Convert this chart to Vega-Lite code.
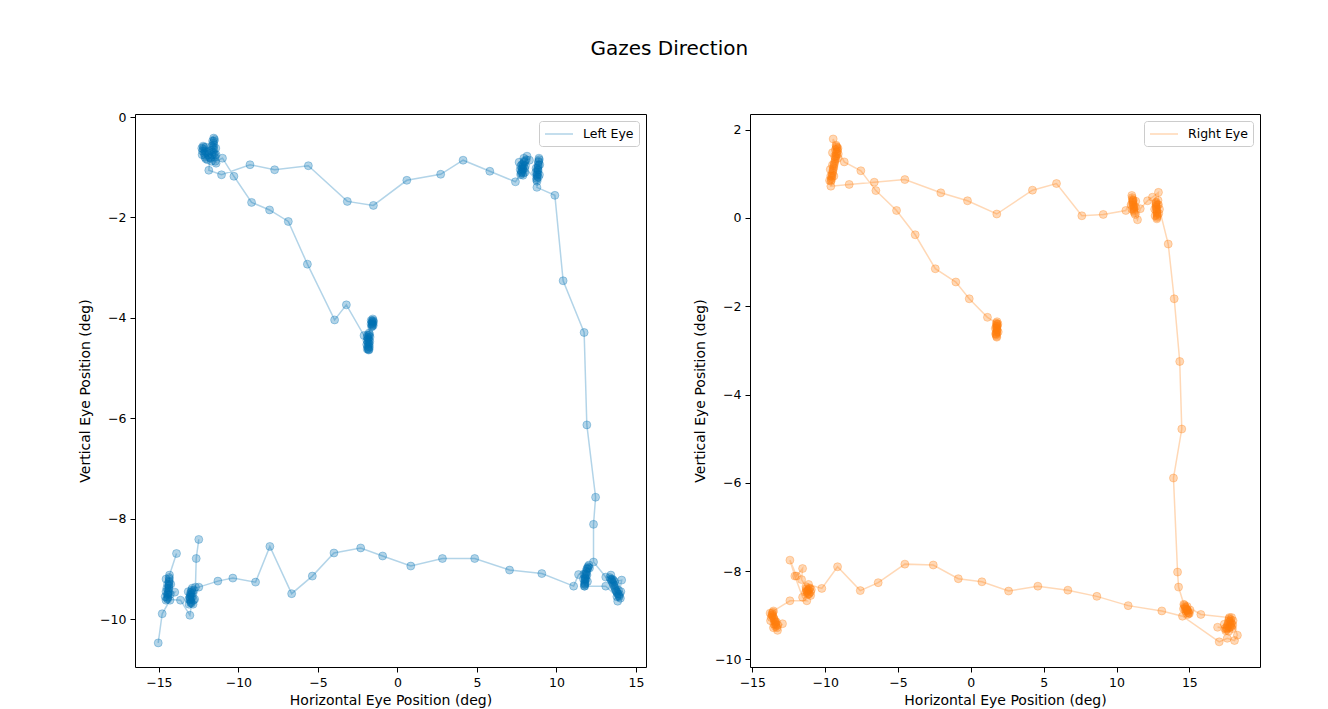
{
  "$schema": "https://vega.github.io/schema/vega-lite/v6.json",
  "background": "white",
  "padding": {"left": 78, "top": 38, "right": 5, "bottom": 5},
  "title": {"text": "Gazes Direction", "anchor": "middle", "fontSize": 20, "font": "DejaVu Sans", "fontWeight": "normal", "color": "black", "offset": 52},
  "datasets": {
    "left": [
      {"eye":"Left Eye","seg":1,"i":1,"x":-1.55,"y":-4.02},
      {"eye":"Left Eye","seg":1,"i":1.5,"x":-1.52,"y":-4.05},
      {"eye":"Left Eye","seg":1,"i":2,"x":-1.58,"y":-4.06},
      {"eye":"Left Eye","seg":1,"i":2.5,"x":-1.60,"y":-4.08},
      {"eye":"Left Eye","seg":1,"i":3,"x":-1.57,"y":-4.10},
      {"eye":"Left Eye","seg":1,"i":3.5,"x":-1.55,"y":-4.12},
      {"eye":"Left Eye","seg":1,"i":4,"x":-1.60,"y":-4.14},
      {"eye":"Left Eye","seg":1,"i":4.5,"x":-1.58,"y":-4.16},
      {"eye":"Left Eye","seg":1,"i":5,"x":-1.62,"y":-4.18},
      {"eye":"Left Eye","seg":1,"i":5.1,"x":-1.50,"y":-4.08},
      {"eye":"Left Eye","seg":1,"i":5.2,"x":-1.65,"y":-4.05},
      {"eye":"Left Eye","seg":1,"i":5.3,"x":-1.52,"y":-4.15},
      {"eye":"Left Eye","seg":1,"i":5.4,"x":-1.66,"y":-4.12},
      {"eye":"Left Eye","seg":1,"i":6,"x":-1.78,"y":-4.30},
      {"eye":"Left Eye","seg":1,"i":6.5,"x":-1.75,"y":-4.33},
      {"eye":"Left Eye","seg":1,"i":7,"x":-1.80,"y":-4.35},
      {"eye":"Left Eye","seg":1,"i":8,"x":-1.82,"y":-4.40},
      {"eye":"Left Eye","seg":1,"i":8.5,"x":-1.85,"y":-4.42},
      {"eye":"Left Eye","seg":1,"i":9,"x":-1.79,"y":-4.45},
      {"eye":"Left Eye","seg":1,"i":10,"x":-1.83,"y":-4.50},
      {"eye":"Left Eye","seg":1,"i":10.5,"x":-1.77,"y":-4.52},
      {"eye":"Left Eye","seg":1,"i":11,"x":-1.80,"y":-4.55},
      {"eye":"Left Eye","seg":1,"i":11.5,"x":-1.87,"y":-4.57},
      {"eye":"Left Eye","seg":1,"i":12,"x":-1.84,"y":-4.60},
      {"eye":"Left Eye","seg":1,"i":12.5,"x":-1.83,"y":-4.62},
      {"eye":"Left Eye","seg":1,"i":13,"x":-1.81,"y":-4.64},
      {"eye":"Left Eye","seg":1,"i":13.1,"x":-1.72,"y":-4.38},
      {"eye":"Left Eye","seg":1,"i":13.2,"x":-1.92,"y":-4.45},
      {"eye":"Left Eye","seg":1,"i":13.3,"x":-1.74,"y":-4.47},
      {"eye":"Left Eye","seg":1,"i":13.4,"x":-1.93,"y":-4.53},
      {"eye":"Left Eye","seg":1,"i":13.5,"x":-1.76,"y":-4.58},
      {"eye":"Left Eye","seg":1,"i":13.6,"x":-1.90,"y":-4.62},
      {"eye":"Left Eye","seg":1,"i":13.7,"x":-1.78,"y":-4.63},
      {"eye":"Left Eye","seg":1,"i":13.8,"x":-1.88,"y":-4.34},
      {"eye":"Left Eye","seg":1,"i":14,"x":-1.86,"y":-4.48},
      {"eye":"Left Eye","seg":1,"i":15,"x":-1.90,"y":-4.38},
      {"eye":"Left Eye","seg":1,"i":16,"x":-2.10,"y":-4.35},
      {"eye":"Left Eye","seg":1,"i":17,"x":-3.21,"y":-3.74},
      {"eye":"Left Eye","seg":1,"i":18,"x":-3.95,"y":-4.04},
      {"eye":"Left Eye","seg":1,"i":19,"x":-5.66,"y":-2.93},
      {"eye":"Left Eye","seg":1,"i":20,"x":-6.86,"y":-2.08},
      {"eye":"Left Eye","seg":1,"i":21,"x":-8.04,"y":-1.85},
      {"eye":"Left Eye","seg":1,"i":22,"x":-9.17,"y":-1.70},
      {"eye":"Left Eye","seg":1,"i":23,"x":-10.28,"y":-1.18},
      {"eye":"Left Eye","seg":1,"i":24,"x":-11.00,"y":-0.82},
      {"eye":"Left Eye","seg":1,"i":25,"x":-11.45,"y":-0.88},
      {"eye":"Left Eye","seg":1,"i":26,"x":-11.50,"y":-0.80},
      {"eye":"Left Eye","seg":1,"i":26.5,"x":-11.48,"y":-0.76},
      {"eye":"Left Eye","seg":1,"i":27,"x":-11.52,"y":-0.72},
      {"eye":"Left Eye","seg":1,"i":28,"x":-11.55,"y":-0.64},
      {"eye":"Left Eye","seg":1,"i":28.5,"x":-11.57,"y":-0.60},
      {"eye":"Left Eye","seg":1,"i":29,"x":-11.55,"y":-0.56},
      {"eye":"Left Eye","seg":1,"i":30,"x":-11.53,"y":-0.48},
      {"eye":"Left Eye","seg":1,"i":30.5,"x":-11.50,"y":-0.45},
      {"eye":"Left Eye","seg":1,"i":31,"x":-11.55,"y":-0.42},
      {"eye":"Left Eye","seg":1,"i":31.5,"x":-11.58,"y":-0.52},
      {"eye":"Left Eye","seg":1,"i":32,"x":-11.62,"y":-0.70},
      {"eye":"Left Eye","seg":1,"i":33,"x":-11.75,"y":-0.82},
      {"eye":"Left Eye","seg":1,"i":34,"x":-11.95,"y":-0.85},
      {"eye":"Left Eye","seg":1,"i":35,"x":-12.10,"y":-0.80},
      {"eye":"Left Eye","seg":1,"i":35.5,"x":-12.12,"y":-0.76},
      {"eye":"Left Eye","seg":1,"i":36,"x":-12.15,"y":-0.72},
      {"eye":"Left Eye","seg":1,"i":37,"x":-12.20,"y":-0.64},
      {"eye":"Left Eye","seg":1,"i":37.5,"x":-12.18,"y":-0.60},
      {"eye":"Left Eye","seg":1,"i":38,"x":-12.22,"y":-0.58},
      {"eye":"Left Eye","seg":1,"i":38.5,"x":-12.25,"y":-0.68},
      {"eye":"Left Eye","seg":1,"i":39,"x":-12.10,"y":-0.68},
      {"eye":"Left Eye","seg":1,"i":39.5,"x":-12.05,"y":-0.83},
      {"eye":"Left Eye","seg":1,"i":40,"x":-11.90,"y":-0.75},
      {"eye":"Left Eye","seg":1,"i":40.5,"x":-11.80,"y":-0.80},
      {"eye":"Left Eye","seg":1,"i":41,"x":-11.70,"y":-0.88},
      {"eye":"Left Eye","seg":1,"i":41.5,"x":-11.65,"y":-0.76},
      {"eye":"Left Eye","seg":1,"i":42,"x":-11.40,"y":-0.92},
      {"eye":"Left Eye","seg":1,"i":42.01,"x":-11.42,"y":-0.62},
      {"eye":"Left Eye","seg":1,"i":42.02,"x":-11.62,"y":-0.48},
      {"eye":"Left Eye","seg":1,"i":42.03,"x":-11.68,"y":-0.58},
      {"eye":"Left Eye","seg":1,"i":42.04,"x":-11.40,"y":-0.75},
      {"eye":"Left Eye","seg":1,"i":42.05,"x":-12.30,"y":-0.62},
      {"eye":"Left Eye","seg":1,"i":42.06,"x":-12.28,"y":-0.75},
      {"eye":"Left Eye","seg":1,"i":42.07,"x":-12.05,"y":-0.60},
      {"eye":"Left Eye","seg":1,"i":42.08,"x":-12.00,"y":-0.70},
      {"eye":"Left Eye","seg":1,"i":42.09,"x":-11.85,"y":-0.68},
      {"eye":"Left Eye","seg":1,"i":42.10,"x":-11.72,"y":-0.66},
      {"eye":"Left Eye","seg":1,"i":43,"x":-11.86,"y":-1.06},
      {"eye":"Left Eye","seg":1,"i":44,"x":-11.06,"y":-1.15},
      {"eye":"Left Eye","seg":1,"i":45,"x":-9.27,"y":-0.95},
      {"eye":"Left Eye","seg":1,"i":46,"x":-7.72,"y":-1.05},
      {"eye":"Left Eye","seg":1,"i":47,"x":-5.60,"y":-0.97},
      {"eye":"Left Eye","seg":1,"i":48,"x":-3.15,"y":-1.68},
      {"eye":"Left Eye","seg":1,"i":49,"x":-1.51,"y":-1.76},
      {"eye":"Left Eye","seg":1,"i":50,"x":0.59,"y":-1.26},
      {"eye":"Left Eye","seg":1,"i":51,"x":2.72,"y":-1.14},
      {"eye":"Left Eye","seg":1,"i":52,"x":4.13,"y":-0.86},
      {"eye":"Left Eye","seg":1,"i":53,"x":5.81,"y":-1.08},
      {"eye":"Left Eye","seg":1,"i":54,"x":7.42,"y":-1.29},
      {"eye":"Left Eye","seg":1,"i":55,"x":7.75,"y":-1.15},
      {"eye":"Left Eye","seg":1,"i":56,"x":7.80,"y":-1.08},
      {"eye":"Left Eye","seg":1,"i":57,"x":7.85,"y":-1.00},
      {"eye":"Left Eye","seg":1,"i":58,"x":7.90,"y":-0.94},
      {"eye":"Left Eye","seg":1,"i":59,"x":7.65,"y":-0.90},
      {"eye":"Left Eye","seg":1,"i":60,"x":7.95,"y":-0.82},
      {"eye":"Left Eye","seg":1,"i":61,"x":8.15,"y":-0.78},
      {"eye":"Left Eye","seg":1,"i":62,"x":8.30,"y":-0.86},
      {"eye":"Left Eye","seg":1,"i":63,"x":8.05,"y":-0.97},
      {"eye":"Left Eye","seg":1,"i":64,"x":7.88,"y":-1.05},
      {"eye":"Left Eye","seg":1,"i":64.1,"x":7.83,"y":-1.10},
      {"eye":"Left Eye","seg":1,"i":64.2,"x":7.87,"y":-1.03},
      {"eye":"Left Eye","seg":1,"i":64.3,"x":7.93,"y":-0.97},
      {"eye":"Left Eye","seg":1,"i":64.4,"x":7.78,"y":-1.12},
      {"eye":"Left Eye","seg":1,"i":64.5,"x":7.90,"y":-1.16},
      {"eye":"Left Eye","seg":1,"i":64.6,"x":8.00,"y":-0.90},
      {"eye":"Left Eye","seg":1,"i":64.7,"x":8.10,"y":-0.85},
      {"eye":"Left Eye","seg":1,"i":65,"x":7.92,"y":-1.12},
      {"eye":"Left Eye","seg":1,"i":66,"x":8.00,"y":-1.02},
      {"eye":"Left Eye","seg":1,"i":66.1,"x":7.72,"y":-1.05},
      {"eye":"Left Eye","seg":1,"i":66.2,"x":7.75,"y":-0.98},
      {"eye":"Left Eye","seg":1,"i":66.3,"x":8.02,"y":-1.10},
      {"eye":"Left Eye","seg":1,"i":66.4,"x":7.97,"y":-0.88},
      {"eye":"Left Eye","seg":1,"i":66.5,"x":7.82,"y":-0.95},
      {"eye":"Left Eye","seg":1,"i":67,"x":8.75,"y":-1.25},
      {"eye":"Left Eye","seg":1,"i":68,"x":8.78,"y":-1.18},
      {"eye":"Left Eye","seg":1,"i":69,"x":8.80,"y":-1.10},
      {"eye":"Left Eye","seg":1,"i":70,"x":8.82,"y":-1.02},
      {"eye":"Left Eye","seg":1,"i":71,"x":8.85,"y":-0.95},
      {"eye":"Left Eye","seg":1,"i":72,"x":8.87,"y":-0.88},
      {"eye":"Left Eye","seg":1,"i":73,"x":8.90,"y":-0.82},
      {"eye":"Left Eye","seg":1,"i":74,"x":8.84,"y":-1.06},
      {"eye":"Left Eye","seg":1,"i":74.1,"x":8.76,"y":-1.22},
      {"eye":"Left Eye","seg":1,"i":74.2,"x":8.81,"y":-1.13},
      {"eye":"Left Eye","seg":1,"i":74.3,"x":8.83,"y":-1.05},
      {"eye":"Left Eye","seg":1,"i":74.4,"x":8.86,"y":-0.98},
      {"eye":"Left Eye","seg":1,"i":74.5,"x":8.88,"y":-0.90},
      {"eye":"Left Eye","seg":1,"i":74.6,"x":8.92,"y":-0.85},
      {"eye":"Left Eye","seg":1,"i":74.7,"x":8.78,"y":-1.28},
      {"eye":"Left Eye","seg":1,"i":75,"x":8.79,"y":-1.15},
      {"eye":"Left Eye","seg":1,"i":75.1,"x":8.70,"y":-1.10},
      {"eye":"Left Eye","seg":1,"i":75.2,"x":8.95,"y":-0.95},
      {"eye":"Left Eye","seg":1,"i":75.3,"x":8.72,"y":-1.02},
      {"eye":"Left Eye","seg":1,"i":75.4,"x":8.93,"y":-1.15},
      {"eye":"Left Eye","seg":1,"i":75.5,"x":8.86,"y":-1.20},
      {"eye":"Left Eye","seg":1,"i":76,"x":8.77,"y":-1.40},
      {"eye":"Left Eye","seg":1,"i":77,"x":9.90,"y":-1.56},
      {"eye":"Left Eye","seg":1,"i":78,"x":10.42,"y":-3.26},
      {"eye":"Left Eye","seg":1,"i":79,"x":11.74,"y":-4.29},
      {"eye":"Left Eye","seg":1,"i":80,"x":11.91,"y":-6.13},
      {"eye":"Left Eye","seg":1,"i":81,"x":12.46,"y":-7.57},
      {"eye":"Left Eye","seg":1,"i":82,"x":12.33,"y":-8.11},
      {"eye":"Left Eye","seg":1,"i":83,"x":12.33,"y":-8.86},
      {"eye":"Left Eye","seg":1,"i":84,"x":13.10,"y":-9.16},
      {"eye":"Left Eye","seg":1,"i":85,"x":13.35,"y":-9.17},
      {"eye":"Left Eye","seg":1,"i":86,"x":13.45,"y":-9.22},
      {"eye":"Left Eye","seg":1,"i":87,"x":13.55,"y":-9.28},
      {"eye":"Left Eye","seg":1,"i":88,"x":13.62,"y":-9.34},
      {"eye":"Left Eye","seg":1,"i":89,"x":13.70,"y":-9.40},
      {"eye":"Left Eye","seg":1,"i":90,"x":13.78,"y":-9.45},
      {"eye":"Left Eye","seg":1,"i":91,"x":13.88,"y":-9.50},
      {"eye":"Left Eye","seg":1,"i":92,"x":13.95,"y":-9.55},
      {"eye":"Left Eye","seg":1,"i":92.1,"x":13.40,"y":-9.20},
      {"eye":"Left Eye","seg":1,"i":92.2,"x":13.50,"y":-9.25},
      {"eye":"Left Eye","seg":1,"i":92.3,"x":13.60,"y":-9.31},
      {"eye":"Left Eye","seg":1,"i":92.4,"x":13.67,"y":-9.37},
      {"eye":"Left Eye","seg":1,"i":92.5,"x":13.75,"y":-9.43},
      {"eye":"Left Eye","seg":1,"i":92.6,"x":13.83,"y":-9.48},
      {"eye":"Left Eye","seg":1,"i":92.7,"x":13.92,"y":-9.53},
      {"eye":"Left Eye","seg":1,"i":92.8,"x":13.97,"y":-9.50},
      {"eye":"Left Eye","seg":1,"i":93,"x":14.05,"y":-9.45},
      {"eye":"Left Eye","seg":1,"i":94,"x":13.85,"y":-9.64},
      {"eye":"Left Eye","seg":1,"i":95,"x":14.10,"y":-9.22},
      {"eye":"Left Eye","seg":1,"i":96,"x":13.65,"y":-9.25},
      {"eye":"Left Eye","seg":1,"i":97,"x":13.50,"y":-9.20},
      {"eye":"Left Eye","seg":1,"i":97.1,"x":13.42,"y":-9.12},
      {"eye":"Left Eye","seg":1,"i":97.2,"x":13.58,"y":-9.22},
      {"eye":"Left Eye","seg":1,"i":97.3,"x":13.72,"y":-9.33},
      {"eye":"Left Eye","seg":1,"i":97.4,"x":13.90,"y":-9.42},
      {"eye":"Left Eye","seg":1,"i":97.5,"x":14.02,"y":-9.58},
      {"eye":"Left Eye","seg":1,"i":97.6,"x":13.80,"y":-9.55},
      {"eye":"Left Eye","seg":1,"i":98,"x":13.10,"y":-9.34},
      {"eye":"Left Eye","seg":1,"i":99,"x":11.75,"y":-9.34},
      {"eye":"Left Eye","seg":1,"i":100,"x":11.77,"y":-9.28},
      {"eye":"Left Eye","seg":1,"i":101,"x":11.78,"y":-9.22},
      {"eye":"Left Eye","seg":1,"i":102,"x":11.80,"y":-9.16},
      {"eye":"Left Eye","seg":1,"i":103,"x":11.83,"y":-9.10},
      {"eye":"Left Eye","seg":1,"i":104,"x":11.87,"y":-9.04},
      {"eye":"Left Eye","seg":1,"i":105,"x":11.92,"y":-8.99},
      {"eye":"Left Eye","seg":1,"i":106,"x":11.98,"y":-8.95},
      {"eye":"Left Eye","seg":1,"i":107,"x":12.05,"y":-8.92},
      {"eye":"Left Eye","seg":1,"i":107.1,"x":12.00,"y":-8.97},
      {"eye":"Left Eye","seg":1,"i":107.2,"x":11.95,"y":-9.00},
      {"eye":"Left Eye","seg":1,"i":107.3,"x":11.90,"y":-9.07},
      {"eye":"Left Eye","seg":1,"i":107.4,"x":11.85,"y":-9.13},
      {"eye":"Left Eye","seg":1,"i":107.5,"x":11.81,"y":-9.19},
      {"eye":"Left Eye","seg":1,"i":107.6,"x":11.79,"y":-9.25},
      {"eye":"Left Eye","seg":1,"i":107.7,"x":11.76,"y":-9.31},
      {"eye":"Left Eye","seg":1,"i":107.8,"x":11.78,"y":-9.34},
      {"eye":"Left Eye","seg":1,"i":108,"x":11.85,"y":-9.20},
      {"eye":"Left Eye","seg":1,"i":109,"x":11.80,"y":-9.30},
      {"eye":"Left Eye","seg":1,"i":109.1,"x":11.70,"y":-9.20},
      {"eye":"Left Eye","seg":1,"i":109.2,"x":11.92,"y":-9.12},
      {"eye":"Left Eye","seg":1,"i":109.3,"x":11.72,"y":-9.10},
      {"eye":"Left Eye","seg":1,"i":109.4,"x":11.95,"y":-9.25},
      {"eye":"Left Eye","seg":1,"i":109.5,"x":12.08,"y":-8.98},
      {"eye":"Left Eye","seg":1,"i":110,"x":11.39,"y":-9.11},
      {"eye":"Left Eye","seg":1,"i":111,"x":11.08,"y":-9.34},
      {"eye":"Left Eye","seg":1,"i":112,"x":9.08,"y":-9.09},
      {"eye":"Left Eye","seg":1,"i":113,"x":7.05,"y":-9.02},
      {"eye":"Left Eye","seg":1,"i":114,"x":4.86,"y":-8.79},
      {"eye":"Left Eye","seg":1,"i":115,"x":2.83,"y":-8.79},
      {"eye":"Left Eye","seg":1,"i":116,"x":0.84,"y":-8.94},
      {"eye":"Left Eye","seg":1,"i":117,"x":-0.93,"y":-8.74},
      {"eye":"Left Eye","seg":1,"i":118,"x":-2.31,"y":-8.58},
      {"eye":"Left Eye","seg":1,"i":119,"x":-3.99,"y":-8.68},
      {"eye":"Left Eye","seg":1,"i":120,"x":-5.35,"y":-9.14},
      {"eye":"Left Eye","seg":1,"i":121,"x":-6.65,"y":-9.49},
      {"eye":"Left Eye","seg":1,"i":122,"x":-8.02,"y":-8.55},
      {"eye":"Left Eye","seg":1,"i":123,"x":-8.92,"y":-9.26},
      {"eye":"Left Eye","seg":1,"i":124,"x":-10.35,"y":-9.18},
      {"eye":"Left Eye","seg":1,"i":125,"x":-11.29,"y":-9.24},
      {"eye":"Left Eye","seg":1,"i":126,"x":-12.49,"y":-9.36},
      {"eye":"Left Eye","seg":1,"i":127,"x":-12.90,"y":-9.38},
      {"eye":"Left Eye","seg":1,"i":128,"x":-12.95,"y":-9.42},
      {"eye":"Left Eye","seg":1,"i":129,"x":-13.00,"y":-9.47},
      {"eye":"Left Eye","seg":1,"i":130,"x":-13.02,"y":-9.52},
      {"eye":"Left Eye","seg":1,"i":131,"x":-13.05,"y":-9.57},
      {"eye":"Left Eye","seg":1,"i":132,"x":-13.03,"y":-9.62},
      {"eye":"Left Eye","seg":1,"i":133,"x":-13.00,"y":-9.67},
      {"eye":"Left Eye","seg":1,"i":133.1,"x":-12.92,"y":-9.45},
      {"eye":"Left Eye","seg":1,"i":133.2,"x":-12.98,"y":-9.50},
      {"eye":"Left Eye","seg":1,"i":133.3,"x":-13.03,"y":-9.55},
      {"eye":"Left Eye","seg":1,"i":133.4,"x":-13.01,"y":-9.60},
      {"eye":"Left Eye","seg":1,"i":133.5,"x":-12.97,"y":-9.65},
      {"eye":"Left Eye","seg":1,"i":133.6,"x":-12.90,"y":-9.55},
      {"eye":"Left Eye","seg":1,"i":133.7,"x":-12.95,"y":-9.68},
      {"eye":"Left Eye","seg":1,"i":134,"x":-12.85,"y":-9.70},
      {"eye":"Left Eye","seg":1,"i":135,"x":-12.75,"y":-9.60},
      {"eye":"Left Eye","seg":1,"i":135.1,"x":-13.15,"y":-9.45},
      {"eye":"Left Eye","seg":1,"i":135.2,"x":-13.12,"y":-9.60},
      {"eye":"Left Eye","seg":1,"i":135.3,"x":-12.85,"y":-9.48},
      {"eye":"Left Eye","seg":1,"i":135.4,"x":-12.82,"y":-9.62},
      {"eye":"Left Eye","seg":1,"i":135.5,"x":-13.10,"y":-9.70},
      {"eye":"Left Eye","seg":1,"i":135.6,"x":-12.80,"y":-9.42},
      {"eye":"Left Eye","seg":1,"i":136,"x":-13.05,"y":-9.92},
      {"eye":"Left Eye","seg":1,"i":137,"x":-13.64,"y":-9.62},
      {"eye":"Left Eye","seg":1,"i":138,"x":-14.45,"y":-9.60},
      {"eye":"Left Eye","seg":1,"i":139,"x":-14.42,"y":-9.52},
      {"eye":"Left Eye","seg":1,"i":140,"x":-14.40,"y":-9.45},
      {"eye":"Left Eye","seg":1,"i":141,"x":-14.38,"y":-9.38},
      {"eye":"Left Eye","seg":1,"i":142,"x":-14.36,"y":-9.31},
      {"eye":"Left Eye","seg":1,"i":143,"x":-14.35,"y":-9.24},
      {"eye":"Left Eye","seg":1,"i":144,"x":-14.35,"y":-9.17},
      {"eye":"Left Eye","seg":1,"i":144.1,"x":-14.34,"y":-9.20},
      {"eye":"Left Eye","seg":1,"i":144.2,"x":-14.36,"y":-9.27},
      {"eye":"Left Eye","seg":1,"i":144.3,"x":-14.37,"y":-9.34},
      {"eye":"Left Eye","seg":1,"i":144.4,"x":-14.39,"y":-9.41},
      {"eye":"Left Eye","seg":1,"i":144.5,"x":-14.41,"y":-9.48},
      {"eye":"Left Eye","seg":1,"i":144.6,"x":-14.43,"y":-9.56},
      {"eye":"Left Eye","seg":1,"i":144.7,"x":-14.47,"y":-9.50},
      {"eye":"Left Eye","seg":1,"i":144.8,"x":-14.50,"y":-9.38},
      {"eye":"Left Eye","seg":1,"i":145,"x":-14.45,"y":-9.30},
      {"eye":"Left Eye","seg":1,"i":146,"x":-14.55,"y":-9.45},
      {"eye":"Left Eye","seg":1,"i":147,"x":-14.00,"y":-9.46},
      {"eye":"Left Eye","seg":1,"i":148,"x":-14.48,"y":-9.58},
      {"eye":"Left Eye","seg":1,"i":148.1,"x":-14.25,"y":-9.30},
      {"eye":"Left Eye","seg":1,"i":148.2,"x":-14.55,"y":-9.20},
      {"eye":"Left Eye","seg":1,"i":148.3,"x":-14.60,"y":-9.55},
      {"eye":"Left Eye","seg":1,"i":148.4,"x":-14.28,"y":-9.50},
      {"eye":"Left Eye","seg":1,"i":148.5,"x":-14.55,"y":-9.62},
      {"eye":"Left Eye","seg":1,"i":148.6,"x":-14.30,"y":-9.62},
      {"eye":"Left Eye","seg":1,"i":149,"x":-14.79,"y":-9.89},
      {"eye":"Left Eye","seg":1,"i":150,"x":-15.04,"y":-10.47},
      {"eye":"Left Eye","seg":2,"i":151,"x":-13.89,"y":-8.69},
      {"eye":"Left Eye","seg":2,"i":152,"x":-14.33,"y":-9.12},
      {"eye":"Left Eye","seg":3,"i":153,"x":-12.49,"y":-8.41},
      {"eye":"Left Eye","seg":3,"i":154,"x":-12.65,"y":-8.79},
      {"eye":"Left Eye","seg":3,"i":155,"x":-12.70,"y":-9.36}
    ],
    "right": [
      {"eye":"Right Eye","seg":1,"i":1,"x":1.80,"y":-2.35},
      {"eye":"Right Eye","seg":1,"i":2,"x":1.78,"y":-2.40},
      {"eye":"Right Eye","seg":1,"i":3,"x":1.76,"y":-2.45},
      {"eye":"Right Eye","seg":1,"i":4,"x":1.78,"y":-2.50},
      {"eye":"Right Eye","seg":1,"i":5,"x":1.80,"y":-2.55},
      {"eye":"Right Eye","seg":1,"i":6,"x":1.76,"y":-2.60},
      {"eye":"Right Eye","seg":1,"i":7,"x":1.74,"y":-2.65},
      {"eye":"Right Eye","seg":1,"i":8,"x":1.78,"y":-2.70},
      {"eye":"Right Eye","seg":1,"i":9,"x":1.82,"y":-2.45},
      {"eye":"Right Eye","seg":1,"i":9.1,"x":1.79,"y":-2.42},
      {"eye":"Right Eye","seg":1,"i":9.2,"x":1.77,"y":-2.48},
      {"eye":"Right Eye","seg":1,"i":9.3,"x":1.79,"y":-2.53},
      {"eye":"Right Eye","seg":1,"i":9.4,"x":1.77,"y":-2.58},
      {"eye":"Right Eye","seg":1,"i":9.5,"x":1.75,"y":-2.63},
      {"eye":"Right Eye","seg":1,"i":9.6,"x":1.77,"y":-2.68},
      {"eye":"Right Eye","seg":1,"i":10,"x":1.75,"y":-2.38},
      {"eye":"Right Eye","seg":1,"i":10.1,"x":1.68,"y":-2.50},
      {"eye":"Right Eye","seg":1,"i":10.2,"x":1.88,"y":-2.58},
      {"eye":"Right Eye","seg":1,"i":10.3,"x":1.70,"y":-2.62},
      {"eye":"Right Eye","seg":1,"i":10.4,"x":1.86,"y":-2.40},
      {"eye":"Right Eye","seg":1,"i":11,"x":1.14,"y":-2.25},
      {"eye":"Right Eye","seg":1,"i":12,"x":-0.11,"y":-1.83},
      {"eye":"Right Eye","seg":1,"i":13,"x":-1.03,"y":-1.45},
      {"eye":"Right Eye","seg":1,"i":14,"x":-2.44,"y":-1.15},
      {"eye":"Right Eye","seg":1,"i":15,"x":-3.82,"y":-0.38},
      {"eye":"Right Eye","seg":1,"i":16,"x":-5.10,"y":0.17},
      {"eye":"Right Eye","seg":1,"i":17,"x":-6.52,"y":0.62},
      {"eye":"Right Eye","seg":1,"i":18,"x":-7.55,"y":1.07},
      {"eye":"Right Eye","seg":1,"i":19,"x":-8.69,"y":1.27},
      {"eye":"Right Eye","seg":1,"i":20,"x":-9.20,"y":1.60},
      {"eye":"Right Eye","seg":1,"i":21,"x":-9.15,"y":1.52},
      {"eye":"Right Eye","seg":1,"i":22,"x":-9.22,"y":1.45},
      {"eye":"Right Eye","seg":1,"i":23,"x":-9.28,"y":1.38},
      {"eye":"Right Eye","seg":1,"i":24,"x":-9.25,"y":1.65},
      {"eye":"Right Eye","seg":1,"i":25,"x":-9.45,"y":1.79},
      {"eye":"Right Eye","seg":1,"i":26,"x":-9.50,"y":1.48},
      {"eye":"Right Eye","seg":1,"i":27,"x":-9.32,"y":1.30},
      {"eye":"Right Eye","seg":1,"i":28,"x":-9.38,"y":1.22},
      {"eye":"Right Eye","seg":1,"i":29,"x":-9.42,"y":1.14},
      {"eye":"Right Eye","seg":1,"i":30,"x":-9.47,"y":1.06},
      {"eye":"Right Eye","seg":1,"i":31,"x":-9.52,"y":0.98},
      {"eye":"Right Eye","seg":1,"i":32,"x":-9.56,"y":0.90},
      {"eye":"Right Eye","seg":1,"i":33,"x":-9.60,"y":0.83},
      {"eye":"Right Eye","seg":1,"i":33.01,"x":-9.58,"y":0.86},
      {"eye":"Right Eye","seg":1,"i":33.02,"x":-9.54,"y":0.94},
      {"eye":"Right Eye","seg":1,"i":33.03,"x":-9.50,"y":1.02},
      {"eye":"Right Eye","seg":1,"i":33.04,"x":-9.45,"y":1.10},
      {"eye":"Right Eye","seg":1,"i":33.05,"x":-9.40,"y":1.18},
      {"eye":"Right Eye","seg":1,"i":33.06,"x":-9.35,"y":1.26},
      {"eye":"Right Eye","seg":1,"i":33.07,"x":-9.30,"y":1.34},
      {"eye":"Right Eye","seg":1,"i":33.08,"x":-9.25,"y":1.41},
      {"eye":"Right Eye","seg":1,"i":33.09,"x":-9.20,"y":1.49},
      {"eye":"Right Eye","seg":1,"i":33.10,"x":-9.18,"y":1.56},
      {"eye":"Right Eye","seg":1,"i":33.11,"x":-9.22,"y":1.62},
      {"eye":"Right Eye","seg":1,"i":33.12,"x":-9.12,"y":1.58},
      {"eye":"Right Eye","seg":1,"i":34,"x":-9.62,"y":0.95},
      {"eye":"Right Eye","seg":1,"i":34.1,"x":-9.10,"y":1.45},
      {"eye":"Right Eye","seg":1,"i":34.2,"x":-9.30,"y":1.55},
      {"eye":"Right Eye","seg":1,"i":34.3,"x":-9.35,"y":1.40},
      {"eye":"Right Eye","seg":1,"i":34.4,"x":-9.50,"y":1.20},
      {"eye":"Right Eye","seg":1,"i":34.5,"x":-9.65,"y":1.10},
      {"eye":"Right Eye","seg":1,"i":34.6,"x":-9.70,"y":0.85},
      {"eye":"Right Eye","seg":1,"i":34.7,"x":-9.40,"y":0.95},
      {"eye":"Right Eye","seg":1,"i":34.8,"x":-9.15,"y":1.35},
      {"eye":"Right Eye","seg":1,"i":35,"x":-9.61,"y":0.72},
      {"eye":"Right Eye","seg":1,"i":36,"x":-8.35,"y":0.76},
      {"eye":"Right Eye","seg":1,"i":37,"x":-6.63,"y":0.81},
      {"eye":"Right Eye","seg":1,"i":38,"x":-4.53,"y":0.87},
      {"eye":"Right Eye","seg":1,"i":39,"x":-2.06,"y":0.57},
      {"eye":"Right Eye","seg":1,"i":40,"x":-0.23,"y":0.39},
      {"eye":"Right Eye","seg":1,"i":41,"x":1.78,"y":0.09},
      {"eye":"Right Eye","seg":1,"i":42,"x":4.23,"y":0.63},
      {"eye":"Right Eye","seg":1,"i":43,"x":5.88,"y":0.78},
      {"eye":"Right Eye","seg":1,"i":44,"x":7.62,"y":0.05},
      {"eye":"Right Eye","seg":1,"i":45,"x":9.09,"y":0.08},
      {"eye":"Right Eye","seg":1,"i":46,"x":10.64,"y":0.17},
      {"eye":"Right Eye","seg":1,"i":47,"x":11.05,"y":0.51},
      {"eye":"Right Eye","seg":1,"i":48,"x":11.10,"y":0.42},
      {"eye":"Right Eye","seg":1,"i":49,"x":11.12,"y":0.36},
      {"eye":"Right Eye","seg":1,"i":50,"x":11.15,"y":0.30},
      {"eye":"Right Eye","seg":1,"i":51,"x":11.18,"y":0.24},
      {"eye":"Right Eye","seg":1,"i":52,"x":11.20,"y":0.18},
      {"eye":"Right Eye","seg":1,"i":53,"x":11.22,"y":0.12},
      {"eye":"Right Eye","seg":1,"i":53.1,"x":11.21,"y":0.15},
      {"eye":"Right Eye","seg":1,"i":53.2,"x":11.19,"y":0.21},
      {"eye":"Right Eye","seg":1,"i":53.3,"x":11.17,"y":0.27},
      {"eye":"Right Eye","seg":1,"i":53.4,"x":11.14,"y":0.33},
      {"eye":"Right Eye","seg":1,"i":53.5,"x":11.11,"y":0.39},
      {"eye":"Right Eye","seg":1,"i":53.6,"x":11.08,"y":0.46},
      {"eye":"Right Eye","seg":1,"i":54,"x":11.15,"y":0.40},
      {"eye":"Right Eye","seg":1,"i":54.1,"x":11.00,"y":0.30},
      {"eye":"Right Eye","seg":1,"i":54.2,"x":11.30,"y":0.25},
      {"eye":"Right Eye","seg":1,"i":54.3,"x":11.05,"y":0.20},
      {"eye":"Right Eye","seg":1,"i":54.4,"x":11.32,"y":0.38},
      {"eye":"Right Eye","seg":1,"i":55,"x":11.28,"y":0.08},
      {"eye":"Right Eye","seg":1,"i":56,"x":11.44,"y":-0.04},
      {"eye":"Right Eye","seg":1,"i":57,"x":11.63,"y":0.21},
      {"eye":"Right Eye","seg":1,"i":58,"x":12.13,"y":0.39},
      {"eye":"Right Eye","seg":1,"i":59,"x":12.47,"y":0.47},
      {"eye":"Right Eye","seg":1,"i":60,"x":12.88,"y":0.58},
      {"eye":"Right Eye","seg":1,"i":61,"x":12.85,"y":0.40},
      {"eye":"Right Eye","seg":1,"i":62,"x":12.70,"y":0.34},
      {"eye":"Right Eye","seg":1,"i":63,"x":12.72,"y":0.28},
      {"eye":"Right Eye","seg":1,"i":64,"x":12.74,"y":0.22},
      {"eye":"Right Eye","seg":1,"i":65,"x":12.76,"y":0.16},
      {"eye":"Right Eye","seg":1,"i":66,"x":12.78,"y":0.10},
      {"eye":"Right Eye","seg":1,"i":67,"x":12.80,"y":0.04},
      {"eye":"Right Eye","seg":1,"i":68,"x":12.77,"y":-0.02},
      {"eye":"Right Eye","seg":1,"i":68.1,"x":12.78,"y":0.01},
      {"eye":"Right Eye","seg":1,"i":68.2,"x":12.79,"y":0.07},
      {"eye":"Right Eye","seg":1,"i":68.3,"x":12.77,"y":0.13},
      {"eye":"Right Eye","seg":1,"i":68.4,"x":12.75,"y":0.19},
      {"eye":"Right Eye","seg":1,"i":68.5,"x":12.73,"y":0.25},
      {"eye":"Right Eye","seg":1,"i":68.6,"x":12.71,"y":0.31},
      {"eye":"Right Eye","seg":1,"i":68.7,"x":12.72,"y":0.36},
      {"eye":"Right Eye","seg":1,"i":69,"x":12.82,"y":0.30},
      {"eye":"Right Eye","seg":1,"i":69.1,"x":12.62,"y":0.20},
      {"eye":"Right Eye","seg":1,"i":69.2,"x":12.90,"y":0.10},
      {"eye":"Right Eye","seg":1,"i":69.3,"x":12.65,"y":0.05},
      {"eye":"Right Eye","seg":1,"i":69.4,"x":12.88,"y":0.30},
      {"eye":"Right Eye","seg":1,"i":70,"x":12.95,"y":0.20},
      {"eye":"Right Eye","seg":1,"i":71,"x":13.55,"y":-0.59},
      {"eye":"Right Eye","seg":1,"i":72,"x":13.96,"y":-1.83},
      {"eye":"Right Eye","seg":1,"i":73,"x":14.34,"y":-3.25},
      {"eye":"Right Eye","seg":1,"i":74,"x":14.48,"y":-4.78},
      {"eye":"Right Eye","seg":1,"i":75,"x":13.91,"y":-5.89},
      {"eye":"Right Eye","seg":1,"i":76,"x":14.19,"y":-8.02},
      {"eye":"Right Eye","seg":1,"i":77,"x":14.26,"y":-8.36},
      {"eye":"Right Eye","seg":1,"i":78,"x":14.62,"y":-8.75},
      {"eye":"Right Eye","seg":1,"i":79,"x":14.70,"y":-8.80},
      {"eye":"Right Eye","seg":1,"i":80,"x":14.78,"y":-8.85},
      {"eye":"Right Eye","seg":1,"i":81,"x":14.85,"y":-8.88},
      {"eye":"Right Eye","seg":1,"i":82,"x":14.92,"y":-8.93},
      {"eye":"Right Eye","seg":1,"i":83,"x":15.00,"y":-8.96},
      {"eye":"Right Eye","seg":1,"i":83.1,"x":14.96,"y":-8.95},
      {"eye":"Right Eye","seg":1,"i":83.2,"x":14.88,"y":-8.90},
      {"eye":"Right Eye","seg":1,"i":83.3,"x":14.82,"y":-8.87},
      {"eye":"Right Eye","seg":1,"i":83.4,"x":14.74,"y":-8.82},
      {"eye":"Right Eye","seg":1,"i":83.5,"x":14.66,"y":-8.77},
      {"eye":"Right Eye","seg":1,"i":83.6,"x":14.70,"y":-8.85},
      {"eye":"Right Eye","seg":1,"i":83.7,"x":14.90,"y":-8.98},
      {"eye":"Right Eye","seg":1,"i":84,"x":14.75,"y":-8.90},
      {"eye":"Right Eye","seg":1,"i":84.1,"x":14.60,"y":-8.85},
      {"eye":"Right Eye","seg":1,"i":84.2,"x":15.05,"y":-8.88},
      {"eye":"Right Eye","seg":1,"i":84.3,"x":14.80,"y":-8.95},
      {"eye":"Right Eye","seg":1,"i":84.4,"x":14.85,"y":-8.80},
      {"eye":"Right Eye","seg":1,"i":85,"x":15.79,"y":-8.98},
      {"eye":"Right Eye","seg":1,"i":86,"x":17.75,"y":-9.05},
      {"eye":"Right Eye","seg":1,"i":87,"x":17.70,"y":-9.12},
      {"eye":"Right Eye","seg":1,"i":88,"x":17.85,"y":-9.10},
      {"eye":"Right Eye","seg":1,"i":89,"x":17.65,"y":-9.20},
      {"eye":"Right Eye","seg":1,"i":90,"x":17.90,"y":-9.18},
      {"eye":"Right Eye","seg":1,"i":91,"x":17.55,"y":-9.28},
      {"eye":"Right Eye","seg":1,"i":92,"x":17.80,"y":-9.25},
      {"eye":"Right Eye","seg":1,"i":93,"x":17.50,"y":-9.35},
      {"eye":"Right Eye","seg":1,"i":93.1,"x":17.72,"y":-9.08},
      {"eye":"Right Eye","seg":1,"i":93.2,"x":17.80,"y":-9.14},
      {"eye":"Right Eye","seg":1,"i":93.3,"x":17.68,"y":-9.16},
      {"eye":"Right Eye","seg":1,"i":93.4,"x":17.85,"y":-9.20},
      {"eye":"Right Eye","seg":1,"i":93.5,"x":17.60,"y":-9.24},
      {"eye":"Right Eye","seg":1,"i":93.6,"x":17.75,"y":-9.28},
      {"eye":"Right Eye","seg":1,"i":93.7,"x":17.55,"y":-9.32},
      {"eye":"Right Eye","seg":1,"i":93.8,"x":17.88,"y":-9.26},
      {"eye":"Right Eye","seg":1,"i":93.9,"x":17.62,"y":-9.30},
      {"eye":"Right Eye","seg":1,"i":94,"x":16.94,"y":-9.27},
      {"eye":"Right Eye","seg":1,"i":95,"x":17.95,"y":-9.30},
      {"eye":"Right Eye","seg":1,"i":95.1,"x":17.40,"y":-9.20},
      {"eye":"Right Eye","seg":1,"i":95.2,"x":18.00,"y":-9.12},
      {"eye":"Right Eye","seg":1,"i":95.3,"x":17.45,"y":-9.30},
      {"eye":"Right Eye","seg":1,"i":95.4,"x":17.98,"y":-9.22},
      {"eye":"Right Eye","seg":1,"i":95.5,"x":17.70,"y":-9.36},
      {"eye":"Right Eye","seg":1,"i":95.6,"x":17.90,"y":-9.05},
      {"eye":"Right Eye","seg":1,"i":96,"x":18.30,"y":-9.45},
      {"eye":"Right Eye","seg":1,"i":97,"x":18.10,"y":-9.57},
      {"eye":"Right Eye","seg":1,"i":98,"x":17.60,"y":-9.52},
      {"eye":"Right Eye","seg":1,"i":99,"x":17.05,"y":-9.60},
      {"eye":"Right Eye","seg":1,"i":100,"x":14.53,"y":-9.02},
      {"eye":"Right Eye","seg":1,"i":101,"x":13.11,"y":-8.90},
      {"eye":"Right Eye","seg":1,"i":102,"x":10.80,"y":-8.78},
      {"eye":"Right Eye","seg":1,"i":103,"x":8.65,"y":-8.57},
      {"eye":"Right Eye","seg":1,"i":104,"x":6.66,"y":-8.43},
      {"eye":"Right Eye","seg":1,"i":105,"x":4.60,"y":-8.34},
      {"eye":"Right Eye","seg":1,"i":106,"x":2.59,"y":-8.45},
      {"eye":"Right Eye","seg":1,"i":107,"x":0.76,"y":-8.24},
      {"eye":"Right Eye","seg":1,"i":108,"x":-0.86,"y":-8.17},
      {"eye":"Right Eye","seg":1,"i":109,"x":-2.58,"y":-7.86},
      {"eye":"Right Eye","seg":1,"i":110,"x":-4.53,"y":-7.84},
      {"eye":"Right Eye","seg":1,"i":111,"x":-6.36,"y":-8.26},
      {"eye":"Right Eye","seg":1,"i":112,"x":-7.59,"y":-8.44},
      {"eye":"Right Eye","seg":1,"i":113,"x":-9.15,"y":-7.90},
      {"eye":"Right Eye","seg":1,"i":114,"x":-10.23,"y":-8.39},
      {"eye":"Right Eye","seg":1,"i":115,"x":-11.14,"y":-8.30},
      {"eye":"Right Eye","seg":1,"i":116,"x":-11.05,"y":-8.38},
      {"eye":"Right Eye","seg":1,"i":117,"x":-11.15,"y":-8.42},
      {"eye":"Right Eye","seg":1,"i":118,"x":-11.25,"y":-8.46},
      {"eye":"Right Eye","seg":1,"i":119,"x":-11.10,"y":-8.50},
      {"eye":"Right Eye","seg":1,"i":120,"x":-11.20,"y":-8.53},
      {"eye":"Right Eye","seg":1,"i":121,"x":-11.00,"y":-8.47},
      {"eye":"Right Eye","seg":1,"i":122,"x":-11.30,"y":-8.40},
      {"eye":"Right Eye","seg":1,"i":122.1,"x":-11.08,"y":-8.40},
      {"eye":"Right Eye","seg":1,"i":122.2,"x":-11.18,"y":-8.44},
      {"eye":"Right Eye","seg":1,"i":122.3,"x":-11.22,"y":-8.49},
      {"eye":"Right Eye","seg":1,"i":122.4,"x":-11.12,"y":-8.52},
      {"eye":"Right Eye","seg":1,"i":122.5,"x":-11.28,"y":-8.44},
      {"eye":"Right Eye","seg":1,"i":122.6,"x":-10.95,"y":-8.42},
      {"eye":"Right Eye","seg":1,"i":122.7,"x":-11.35,"y":-8.48},
      {"eye":"Right Eye","seg":1,"i":122.8,"x":-11.00,"y":-8.55},
      {"eye":"Right Eye","seg":1,"i":122.9,"x":-11.32,"y":-8.35},
      {"eye":"Right Eye","seg":1,"i":123,"x":-11.62,"y":-8.19},
      {"eye":"Right Eye","seg":1,"i":124,"x":-11.55,"y":-7.94},
      {"eye":"Right Eye","seg":1,"i":125,"x":-11.96,"y":-8.11},
      {"eye":"Right Eye","seg":1,"i":126,"x":-12.42,"y":-7.75},
      {"eye":"Right Eye","seg":1,"i":127,"x":-12.08,"y":-8.11},
      {"eye":"Right Eye","seg":1,"i":128,"x":-11.55,"y":-8.59},
      {"eye":"Right Eye","seg":1,"i":129,"x":-11.26,"y":-8.67},
      {"eye":"Right Eye","seg":1,"i":130,"x":-12.42,"y":-8.67},
      {"eye":"Right Eye","seg":1,"i":131,"x":-13.55,"y":-8.90},
      {"eye":"Right Eye","seg":1,"i":132,"x":-13.65,"y":-8.95},
      {"eye":"Right Eye","seg":1,"i":133,"x":-13.60,"y":-9.02},
      {"eye":"Right Eye","seg":1,"i":134,"x":-13.50,"y":-9.08},
      {"eye":"Right Eye","seg":1,"i":135,"x":-13.45,"y":-9.14},
      {"eye":"Right Eye","seg":1,"i":136,"x":-13.38,"y":-9.20},
      {"eye":"Right Eye","seg":1,"i":137,"x":-13.42,"y":-9.25},
      {"eye":"Right Eye","seg":1,"i":138,"x":-13.70,"y":-9.05},
      {"eye":"Right Eye","seg":1,"i":139,"x":-13.35,"y":-9.15},
      {"eye":"Right Eye","seg":1,"i":139.1,"x":-13.58,"y":-8.93},
      {"eye":"Right Eye","seg":1,"i":139.2,"x":-13.62,"y":-8.98},
      {"eye":"Right Eye","seg":1,"i":139.3,"x":-13.55,"y":-9.05},
      {"eye":"Right Eye","seg":1,"i":139.4,"x":-13.48,"y":-9.11},
      {"eye":"Right Eye","seg":1,"i":139.5,"x":-13.42,"y":-9.17},
      {"eye":"Right Eye","seg":1,"i":139.6,"x":-13.40,"y":-9.22},
      {"eye":"Right Eye","seg":1,"i":139.7,"x":-13.66,"y":-9.00},
      {"eye":"Right Eye","seg":1,"i":139.8,"x":-13.52,"y":-9.20},
      {"eye":"Right Eye","seg":1,"i":139.91,"x":-13.75,"y":-9.12},
      {"eye":"Right Eye","seg":1,"i":139.92,"x":-13.30,"y":-9.28},
      {"eye":"Right Eye","seg":1,"i":139.93,"x":-13.78,"y":-8.95},
      {"eye":"Right Eye","seg":1,"i":139.94,"x":-13.25,"y":-9.22},
      {"eye":"Right Eye","seg":1,"i":139.95,"x":-13.55,"y":-9.28},
      {"eye":"Right Eye","seg":1,"i":140,"x":-13.27,"y":-9.34},
      {"eye":"Right Eye","seg":1,"i":141,"x":-12.93,"y":-9.19}
    ]
  },
  "spacing": 46,
  "resolve": {"scale": {"color": "independent"}, "legend": {"color": "independent"}},
  "hconcat": [
    {
      "width": 511,
      "height": 553,
      "data": {"name": "left"},
      "layer": [
        {
          "mark": {"type": "line", "strokeWidth": 1.5, "opacity": 0.3},
          "encoding": {
            "x": {"field": "x", "type": "quantitative", "scale": {"domain": [-16.5, 15.63], "nice": false, "zero": false}, "axis": {"values": [-15, -10, -5, 0, 5, 10, 15], "title": "Horizontal Eye Position (deg)"}},
            "y": {"field": "y", "type": "quantitative", "scale": {"domain": [-10.95, 0.06], "nice": false, "zero": false}, "axis": {"values": [0, -2, -4, -6, -8, -10], "title": "Vertical Eye Position (deg)"}},
            "order": {"field": "i", "type": "quantitative"},
            "detail": {"field": "seg", "type": "nominal"},
            "color": {"field": "eye", "type": "nominal", "scale": {"range": ["#0072b2"]}, "legend": {"title": null, "orient": "top-right", "symbolType": "M-2,0H2", "symbolSize": 196, "symbolOffset": 7, "labelOffset": 16}}
          }
        },
        {
          "mark": {"type": "point", "filled": true, "size": 64, "fill": "#0072b2", "stroke": "#0072b2", "strokeWidth": 1, "opacity": 1, "fillOpacity": 0.3, "strokeOpacity": 0.3},
          "encoding": {
            "x": {"field": "x", "type": "quantitative"},
            "y": {"field": "y", "type": "quantitative"}
          }
        }
      ]
    },
    {
      "width": 510,
      "height": 553,
      "data": {"name": "right"},
      "layer": [
        {
          "mark": {"type": "line", "strokeWidth": 1.5, "opacity": 0.3},
          "encoding": {
            "x": {"field": "x", "type": "quantitative", "scale": {"domain": [-15.16, 19.85], "nice": false, "zero": false}, "axis": {"values": [-15, -10, -5, 0, 5, 10, 15], "title": "Horizontal Eye Position (deg)"}},
            "y": {"field": "y", "type": "quantitative", "scale": {"domain": [-10.17, 2.355], "nice": false, "zero": false}, "axis": {"values": [2, 0, -2, -4, -6, -8, -10], "title": "Vertical Eye Position (deg)"}},
            "order": {"field": "i", "type": "quantitative"},
            "detail": {"field": "seg", "type": "nominal"},
            "color": {"field": "eye", "type": "nominal", "scale": {"range": ["#ff7f0e"]}, "legend": {"title": null, "orient": "top-right", "symbolType": "M-2,0H2", "symbolSize": 196, "symbolOffset": 7, "labelOffset": 16}}
          }
        },
        {
          "mark": {"type": "point", "filled": true, "size": 64, "fill": "#ff7f0e", "stroke": "#ff7f0e", "strokeWidth": 1, "opacity": 1, "fillOpacity": 0.3, "strokeOpacity": 0.3},
          "encoding": {
            "x": {"field": "x", "type": "quantitative"},
            "y": {"field": "y", "type": "quantitative"}
          }
        }
      ]
    }
  ],
  "config": {
    "font": "DejaVu Sans",
    "view": {"stroke": "black", "strokeWidth": 1},
    "axis": {"grid": false, "domain": false, "ticks": true, "tickColor": "black", "tickSize": 5, "tickWidth": 1, "labelFontSize": 12.5, "labelColor": "black", "labelFont": "DejaVu Sans", "labelPadding": 4, "titleFontSize": 14, "titleFontWeight": "normal", "titleColor": "black", "titleFont": "DejaVu Sans"},
    "axisY": {"titlePadding": 7},
    "axisX": {"titlePadding": 5},
    "legend": {"symbolStrokeWidth": 1.5, "symbolOpacity": 0.3, "labelFontSize": 12.5, "labelFont": "DejaVu Sans", "labelColor": "black", "padding": 5, "cornerRadius": 3, "strokeColor": "#cccccc", "fillColor": "white", "offset": 7}
  }
}
